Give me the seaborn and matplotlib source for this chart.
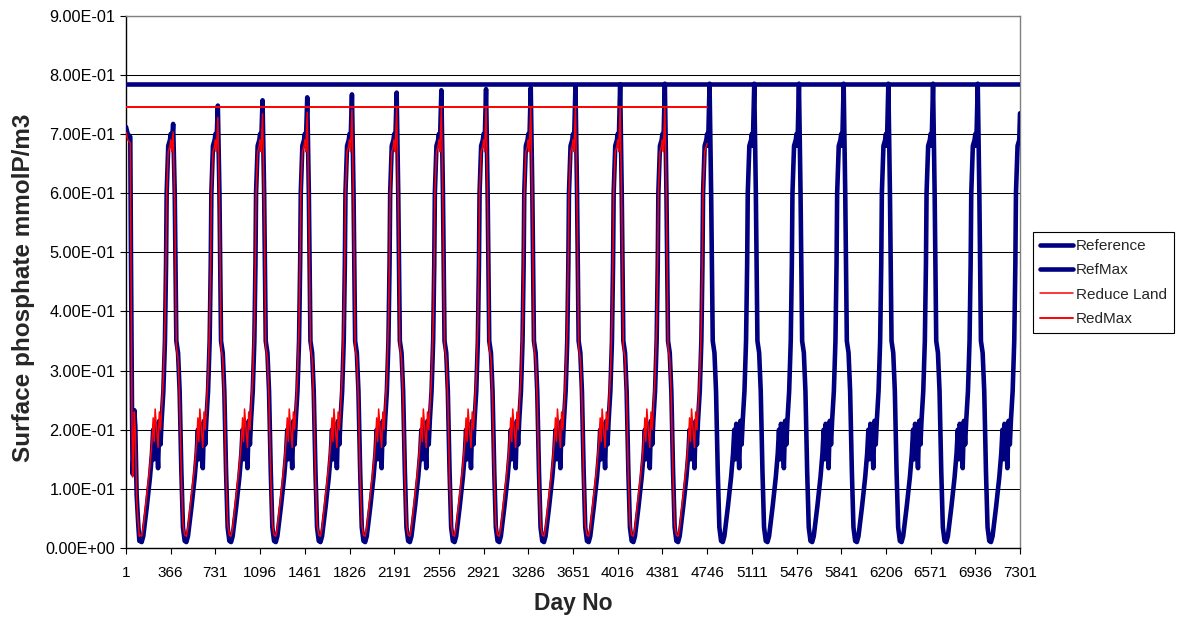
import matplotlib
matplotlib.use("Agg")
import matplotlib.pyplot as plt
import seaborn as sns
import pandas as pd

# ---------------- data ----------------
tick_days = [1, 366, 731, 1096, 1461, 1826, 2191, 2556, 2921, 3286, 3651,
             4016, 4381, 4746, 5111, 5476, 5841, 6206, 6571, 6936, 7301]
y_ticks = [0.0, 0.1, 0.2, 0.3, 0.4, 0.5, 0.6, 0.7, 0.8, 0.9]

# first (partial) year: day offsets from day 1 and values
first_offsets = [0, 14, 35, 41, 49, 54, 62, 68, 76, 87, 100, 109]
ref_first_vals = [0.712, 0.700, 0.695, 0.480, 0.233, 0.125, 0.160, 0.233, 0.205, 0.090, 0.040, 0.012]
red_first_vals = [0.703, 0.690, 0.685, 0.470, 0.220, 0.120, 0.170, 0.230, 0.200, 0.085, 0.040, 0.020]

# key points of a yearly cycle: day offsets from the start of each year
cycle_offsets = [0, 8, 20, 33, 46, 60, 73, 87, 100, 114, 128, 141, 170, 196,
                 212, 222, 230, 238, 250, 262, 272, 282, 291, 305, 318, 327,
                 332, 345, 359]
# None marks the yearly peak (taken from the peak lists below)
ref_cycle_vals = [0.700, 0.680, None, 0.600, 0.350, 0.330, 0.265, 0.130, 0.035,
                  0.012, 0.010, 0.020, 0.070, 0.120, 0.160, 0.200, 0.150, 0.210,
                  0.190, 0.135, 0.215, 0.175, 0.216, 0.265, 0.350, 0.480, 0.600,
                  0.680, 0.690]
red_cycle_vals = [0.690, 0.670, None, 0.580, 0.340, 0.320, 0.250, 0.120, 0.040,
                  0.022, 0.020, 0.035, 0.090, 0.140, 0.180, 0.220, 0.180, 0.235,
                  0.200, 0.170, 0.230, 0.200, 0.235, 0.290, 0.380, 0.500, 0.600,
                  0.670, 0.680]

# yearly peak values, years 1..19 (Reference) and 1..12 (Reduce Land)
ref_peaks = [0.717, 0.748, 0.757, 0.762, 0.767, 0.770, 0.774, 0.776, 0.778,
             0.782, 0.784, 0.785, 0.785, 0.785, 0.785, 0.785, 0.785, 0.785, 0.785]
red_peaks = [0.703, 0.728, 0.734, 0.737, 0.741, 0.743, 0.745, 0.7455, 0.7455,
             0.7455, 0.7455, 0.7455]

ref_last_day, ref_last_val = 7301, 0.735
red_last_day, red_last_val = 4746, 0.684

ref_max_val = 0.785
red_max_val = 0.7455
ref_max_days = [1, 7301]
red_max_days = [1, 4746]

series_names = ["Reference", "RefMax", "Reduce Land", "RedMax"]


def build(first_vals, cycle_vals, peaks, last_day, last_val):
    days, vals = [], []
    for off, v in zip(first_offsets, first_vals):
        days.append(tick_days[0] + off)
        vals.append(v)
    for off, v in zip(cycle_offsets, cycle_vals):
        if off > first_offsets[-1]:
            days.append(tick_days[0] + off)
            vals.append(v)
    for k, p in enumerate(peaks, start=1):
        start = tick_days[k]
        for off, v in zip(cycle_offsets, cycle_vals):
            days.append(start + off)
            vals.append(p if v is None else v)
    days.append(last_day)
    vals.append(last_val)
    return pd.DataFrame({"day": days, "value": vals})


ref_df = build(ref_first_vals, ref_cycle_vals, ref_peaks, ref_last_day, ref_last_val)
red_df = build(red_first_vals, red_cycle_vals, red_peaks, red_last_day, red_last_val)
refmax_df = pd.DataFrame({"day": ref_max_days, "value": [ref_max_val] * 2})
redmax_df = pd.DataFrame({"day": red_max_days, "value": [red_max_val] * 2})

# ---------------- plotting ----------------
sns.set_style("white")
plt.rcParams["font.family"] = ["Liberation Sans", "DejaVu Sans"]

W, H = 1181, 619
fig = plt.figure(figsize=(W / 100, H / 100), dpi=100)
ax = fig.add_axes([126 / W, 1 - 548 / H, (1020 - 126) / W, (548 - 15.7) / H])

navy = "#000080"
red = "#FF0000"

sns.lineplot(data=ref_df, x="day", y="value", ax=ax, color=navy, linewidth=3.3,
             estimator=None, errorbar=None, label=series_names[0], zorder=3)
sns.lineplot(data=refmax_df, x="day", y="value", ax=ax, color=navy, linewidth=3.3,
             estimator=None, errorbar=None, label=series_names[1], zorder=3)
sns.lineplot(data=red_df, x="day", y="value", ax=ax, color=red, linewidth=1.1,
             estimator=None, errorbar=None, label=series_names[2], zorder=4)
sns.lineplot(data=redmax_df, x="day", y="value", ax=ax, color=red, linewidth=1.4,
             estimator=None, errorbar=None, label=series_names[3], zorder=4)

ax.set_xlim(tick_days[0], tick_days[-1])
ax.set_ylim(y_ticks[0], y_ticks[-1])
ax.set_xticks(tick_days)
ax.set_xticklabels([str(d) for d in tick_days])
ax.set_yticks(y_ticks)
ax.set_yticklabels([f"{v:.2E}" for v in y_ticks])

ax.yaxis.grid(True, color="black", linewidth=0.75)
ax.xaxis.grid(False)
ax.set_axisbelow(True)

for s in ["left", "bottom"]:
    ax.spines[s].set_color("black")
    ax.spines[s].set_linewidth(1.0)
for s in ["top", "right"]:
    ax.spines[s].set_color("#808080")
    ax.spines[s].set_linewidth(1.0)

ax.tick_params(axis="x", direction="out", length=4, width=0.8, colors="black",
               labelsize=11, pad=9, bottom=True)
ax.tick_params(axis="y", direction="out", length=4.5, width=0.8, colors="black",
               labelsize=11.7, pad=3, left=True)

ax.set_xlabel("Day No", fontsize=16.5, fontweight="bold")
ax.set_ylabel("Surface phosphate mmolP/m3", fontsize=17.5, fontweight="bold")
ax.xaxis.set_label_coords(0.5, (548 - 592) / 532.3)
ax.yaxis.set_label_coords((35 - 126) / 894, (548 - 288) / 532.3)

handles, labels = ax.get_legend_handles_labels()
leg = ax.legend(handles, labels, loc="upper left",
                bbox_to_anchor=(1033 / W, 1 - 232 / H), bbox_transform=fig.transFigure,
                frameon=True, fancybox=False, edgecolor="black", framealpha=1,
                fontsize=11, handlelength=2.2, handletextpad=0.15,
                labelspacing=0.68, borderpad=0.45, borderaxespad=0)
leg.get_frame().set_linewidth(0.8)

fig.savefig("out.png", dpi=100)
